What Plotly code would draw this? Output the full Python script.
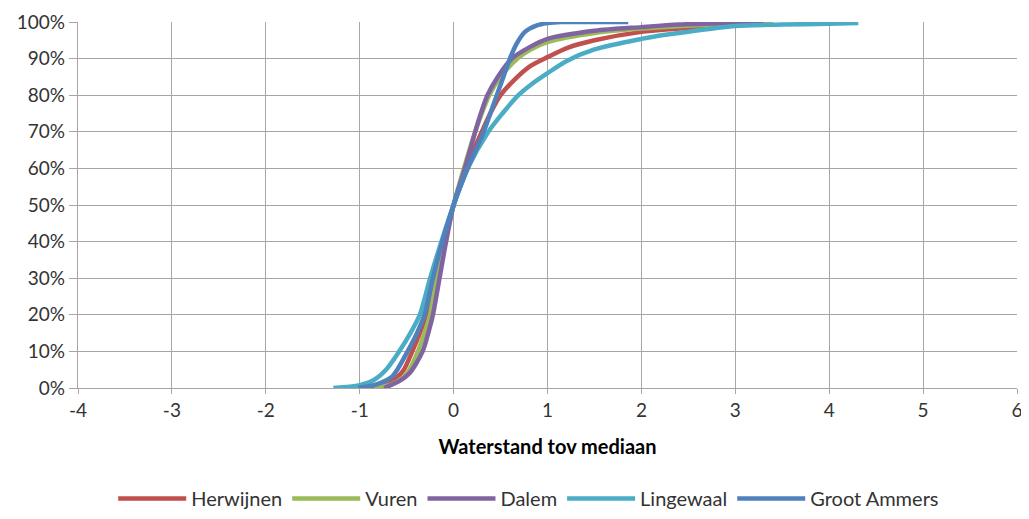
import plotly.graph_objects as go

# Cumulative distributions: water level relative to median (m) vs cumulative share (%)
herwijnen_x = [-0.95, -0.75, -0.6, -0.53, -0.44, -0.36, -0.29, -0.25, -0.21, -0.11, 0, 0.13, 0.3, 0.39, 0.5, 0.68, 0.82, 1.0, 1.22, 1.5, 2.0, 2.4, 3.0, 3.4]
herwijnen_y = [0, 1, 3, 5, 10, 15, 20, 25, 30, 40, 50, 60, 70, 75, 80, 85, 88, 90.4, 93, 95, 97.3, 98.2, 99.4, 99.8]

vuren_x = [-0.85, -0.66, -0.53, -0.47, -0.38, -0.31, -0.25, -0.18, -0.09, 0, 0.11, 0.23, 0.3, 0.38, 0.5, 0.68, 0.82, 1.0, 1.5, 2.0, 2.5, 3.0, 3.4]
vuren_y = [0, 1, 3, 5, 10, 15, 20, 30, 40, 50, 60, 70, 75, 80, 85, 90, 92.5, 94.5, 97, 98.2, 99, 99.6, 99.9]

dalem_x = [-0.74, -0.57, -0.47, -0.33, -0.27, -0.22, -0.15, -0.08, 0, 0.12, 0.23, 0.29, 0.36, 0.47, 0.62, 0.8, 1.0, 1.5, 2.0, 2.4, 3.0, 3.3]
dalem_y = [0, 2, 4, 10, 15, 20, 30, 40, 50, 60, 70, 75, 80, 85, 90, 93, 95.4, 97.6, 98.6, 99.3, 99.8, 100]

lingewaal_x = [-1.28, -1.0, -0.85, -0.72, -0.58, -0.46, -0.36, -0.25, -0.13, 0, 0.15, 0.37, 0.52, 0.69, 0.83, 1.0, 1.2, 1.5, 2.0, 2.2, 2.4, 3.0, 3.5, 4.0, 4.31]
lingewaal_y = [0, 0.8, 2.2, 5, 10, 15, 20, 30, 40, 50, 60, 70, 75, 80, 83, 86, 89.3, 92.5, 95.4, 96.3, 97, 98.9, 99.3, 99.5, 99.7]

grootammers_x = [-1.02, -0.82, -0.66, -0.6, -0.49, -0.39, -0.31, -0.22, -0.12, 0, 0.15, 0.32, 0.46, 0.53, 0.6, 0.67, 0.76, 0.88, 1.0, 1.15, 1.5, 1.86]
grootammers_y = [0, 1, 3, 5, 10, 15, 20, 30, 40, 50, 60, 70, 80, 85, 90, 94, 97.3, 99, 99.7, 100, 100, 100]

series = [
    ("Herwijnen", herwijnen_x, herwijnen_y, "#C0504D"),
    ("Vuren", vuren_x, vuren_y, "#9BBB59"),
    ("Dalem", dalem_x, dalem_y, "#8064A2"),
    ("Lingewaal", lingewaal_x, lingewaal_y, "#4BACC6"),
    ("Groot Ammers", grootammers_x, grootammers_y, "#4F81BD"),
]

x_ticks = [-4, -3, -2, -1, 0, 1, 2, 3, 4, 5, 6]
y_ticks = [0, 0.1, 0.2, 0.3, 0.4, 0.5, 0.6, 0.7, 0.8, 0.9, 1.0]

fig = go.Figure()
for name, xs, ys, color in series:
    fig.add_trace(go.Scatter(
        x=xs, y=[v / 100 for v in ys], name=name, mode="lines",
        line=dict(color=color, width=4.5, shape="spline", smoothing=0.8),
    ))

font_family = "Lato, 'Open Sans', sans-serif"
grid_color = "#A6A6A6"

# page body has an 8px margin: figure sized to fit the 1029x519 window
fig.update_layout(
    width=1021, height=503,
    margin=dict(l=70, r=12, t=14, b=123, autoexpand=False),
    paper_bgcolor="white", plot_bgcolor="white",
    font=dict(family=font_family, size=19, color="#333333"),
    showlegend=True,
    legend=dict(
        orientation="h", xref="container", x=0.51, xanchor="center",
        yref="container", y=0.025, yanchor="middle",
        font=dict(size=20, color="#333333"), itemwidth=68, traceorder="normal",
    ),
    xaxis=dict(
        range=[-4, 6], tickvals=x_ticks, ticktext=[str(v) for v in x_ticks],
        showgrid=True, gridcolor=grid_color, gridwidth=1.3,
        zeroline=False, showline=True, linecolor=grid_color, linewidth=1.3,
        ticks="outside", ticklen=5, tickcolor=grid_color, automargin=False,
        title=dict(text="<b>Waterstand tov mediaan</b>", font=dict(size=20, color="#000000"), standoff=20),
    ),
    yaxis=dict(
        range=[0, 1], tickvals=y_ticks, tickformat=".0%", automargin=False,
        showgrid=True, gridcolor=grid_color, gridwidth=1.3,
        zeroline=False, showline=True, linecolor=grid_color, linewidth=1.3,
        ticks="outside", ticklen=8, tickcolor=grid_color,
    ),
)

fig.write_html("out.html")
